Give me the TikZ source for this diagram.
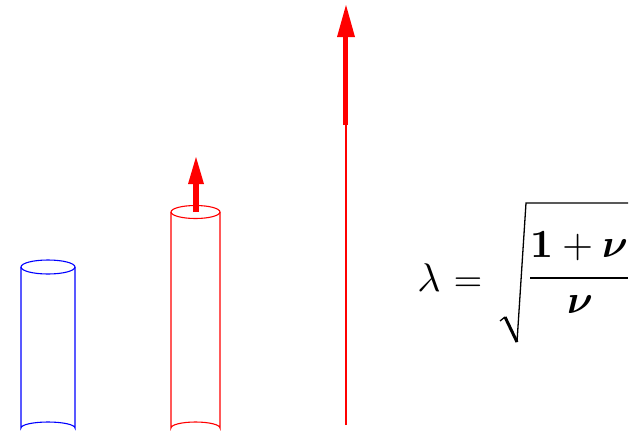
\documentclass[tikz,border=0pt]{standalone}
\usepackage{amsmath}
\usepackage{graphicx}
\newcommand{\bigmath}[2][3.7]{\scalebox{#1}{$#2$}}
\begin{document}
\begin{tikzpicture}[x=1pt,y=-1pt,
  cyl/.style={line width=1.1pt},
  thick shaft/.style={line width=5.5pt},
  headfill/.style={fill=red,draw=none},
  mathtxt/.style={inner sep=0pt},
  radical/.style={line width=1.3pt,line join=miter}]
\useasboundingbox (0,0) rectangle (644,434);
% blue cylinder
\draw[cyl,blue] (48,267) ellipse [x radius=27,y radius=7];
\draw[cyl,blue] (21,267) -- (21,428) arc[start angle=180,end angle=360,x radius=27,y radius=6] -- (75,267);
% red cylinder
\draw[cyl,red] (195.5,212) ellipse [x radius=24.5,y radius=6.5];
\draw[cyl,red] (171,212) -- (171,428) arc[start angle=180,end angle=360,x radius=24.5,y radius=6] -- (220,212);
% small arrow
\draw[thick shaft,red] (196,212) -- (196,182);
\fill[headfill] (188,184) -- (196,157) -- (204,184) -- cycle;
% tall arrow
\draw[red,line width=2pt] (345.5,425) -- (345.5,122);
\draw[thick shaft,red] (345.5,125) -- (345.5,34);
\fill[headfill] (337,37) -- (346,5) -- (355,37) -- cycle;
% formula
\node[mathtxt,anchor=base] (lam) at (429,291) {\bigmath[4]{\lambda}};
\node[mathtxt,anchor=base] (eq) at (468,291) {\bigmath{=}};
\node[mathtxt,anchor=base] (num) at (579,257) {\bigmath[4]{\mathbf{1}+\boldsymbol{\nu}}};
\node[mathtxt,anchor=base] (den) at (580,313) {\bigmath[4]{\boldsymbol{\nu}}};
\coordinate (barL) at (530,278);
\coordinate (barR) at (628,278);
\draw[line width=1.6pt] (barL) -- (barR);
\coordinate (r1) at (500,321);
\coordinate (r2) at (505,317);
\coordinate (r3) at (517,342);
\coordinate (r4) at (526,203);
\coordinate (r5) at (628,203);
\draw[radical] (r1) -- (r2);
\draw[line width=3pt] (r2) -- (r3);
\draw[radical] (r3) -- (r4) -- (r5);
\end{tikzpicture}
\end{document}
